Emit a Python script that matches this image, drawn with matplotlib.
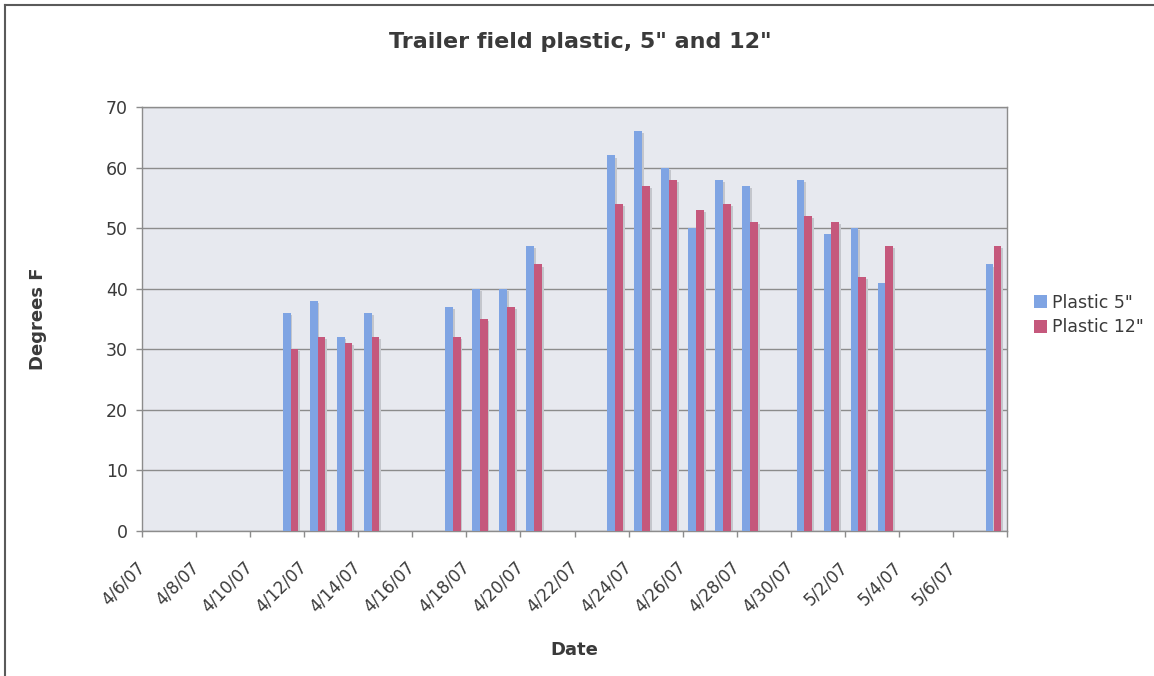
#!/usr/bin/env python3
'''
Soil temperature under plastic mulch, trailer field.
'''
### MODULES ---
import pandas as pd
import matplotlib
matplotlib.use('Agg')
import matplotlib.pyplot as plt
import matplotlib.dates as mdates
from matplotlib.lines import Line2D


### DATA ---
dates = ['2007-04-11', '2007-04-12', '2007-04-13', '2007-04-14',
         '2007-04-17', '2007-04-18', '2007-04-19', '2007-04-20',
         '2007-04-23', '2007-04-24', '2007-04-25', '2007-04-26',
         '2007-04-27', '2007-04-28', '2007-04-30', '2007-05-01',
         '2007-05-02', '2007-05-03', '2007-05-07']
plastic_5 = [36, 38, 32, 36, 37, 40, 40, 47, 62, 66, 60, 50, 58, 57,
             58, 49, 50, 41, 44]
plastic_12 = [30, 32, 31, 32, 32, 35, 37, 44, 54, 57, 58, 53, 54, 51,
              52, 51, 42, 47, 47]

start, end = '2007-04-06', '2007-05-08'


### PLOT ---
W, H = 1154, 676
fig = plt.figure(figsize=(W/100, H/100), dpi=100)
ax = fig.add_axes([142/W, 1 - 531/H, 865/W, 424/H])

blue = '#7fa4e3'
red = '#c5587c'
shade = '#c4c6cc'
text = '#3a3a3a'

# Each day spans [d, d+1], so bars sit at noon
x = mdates.date2num(pd.to_datetime(dates)) + 0.5
w = 0.28
off = 0.145

# Drop shadows behind the bars
ax.bar(x - off + 0.07, [v - 0.35 for v in plastic_5], w, color=shade, zorder=2)
ax.bar(x + off + 0.07, [v - 0.35 for v in plastic_12], w, color=shade, zorder=2)

b5 = ax.bar(x - off, plastic_5, w, color=blue, label='Plastic 5"', zorder=3)
b12 = ax.bar(x + off, plastic_12, w, color=red, label='Plastic 12"', zorder=3)

# Axes format
ax.set_facecolor('#e7e9ef')
ax.set_xlim(mdates.date2num(pd.Timestamp(start)), mdates.date2num(pd.Timestamp(end)))
ax.set_ylim(0, 70)
ax.set_yticks(range(0, 71, 10))
ax.yaxis.grid(True, color='#8c8c8c', linewidth=1.0)
ax.set_axisbelow(True)

tick_dates = pd.date_range(start, end, freq='2D')
labels = ['{}/{}/07'.format(d.month, d.day) for d in tick_dates[:-1]] + ['']
ax.set_xticks(mdates.date2num(tick_dates))
ax.set_xticklabels(labels, rotation=45, ha='right', va='center',
                   rotation_mode='anchor')

for s in ax.spines.values():
    s.set_color('#8c8c8c')
    s.set_linewidth(1.0)
ax.tick_params(axis='x', length=4, width=1, color='#8c8c8c', pad=20,
               labelsize=12, labelcolor=text)
ax.tick_params(axis='y', length=4, width=1, color='#8c8c8c', pad=6,
               labelsize=12.5, labelcolor=text)

ax.set_xlabel('Date', fontsize=13, fontweight='bold', color=text)
ax.xaxis.set_label_coords(0.5, 1 - (641 - 107)/424)
ax.set_ylabel('Degrees F', fontsize=13, fontweight='bold', color=text)
ax.yaxis.set_label_coords(-(142 - 47)/865, 0.5)

fig.text(580/W, 1 - 42/H, 'Trailer field plastic, 5" and 12"', fontsize=16,
         fontweight='bold', color=text, ha='center', va='center')

ax.legend(handles=[b5, b12], loc='center left', frameon=False,
          bbox_to_anchor=(1025/W, 1 - 315/H), bbox_transform=fig.transFigure,
          fontsize=12.5, handlelength=0.75, handleheight=0.75,
          handletextpad=0.3, labelspacing=0.4, borderpad=0,
          labelcolor=text)

# Chart area border, top and left edges
fig.add_artist(Line2D([5/W, 1], [1 - 5/H, 1 - 5/H], color='#5a5a5a',
                      linewidth=1.5, transform=fig.transFigure))
fig.add_artist(Line2D([5/W, 5/W], [0, 1 - 5/H], color='#5a5a5a',
                      linewidth=1.5, transform=fig.transFigure))

fig.savefig('out.png', dpi=100)
